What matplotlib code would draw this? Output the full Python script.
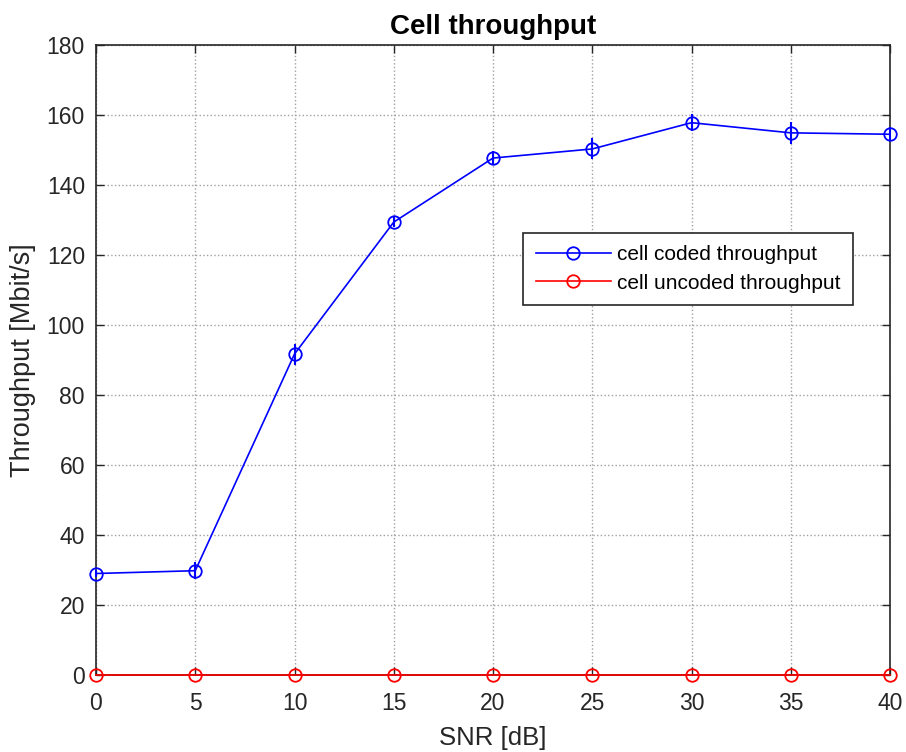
import numpy as np
import matplotlib
matplotlib.use("Agg")
import matplotlib.pyplot as plt
from matplotlib.lines import Line2D

plt.rcParams['font.family'] = ['Liberation Sans', 'DejaVu Sans']

# data
snr = [0, 5, 10, 15, 20, 25, 30, 35, 40]
coded = [29.0, 29.8, 91.7, 129.4, 147.7, 150.3, 157.8, 154.9, 154.5]
coded_err = [1.0, 2.5, 3.0, 1.5, 2.0, 3.0, 2.4, 3.1, 2.0]
uncoded = [0, 0, 0, 0, 0, 0, 0, 0, 0]
uncoded_err = [0, 0, 0, 0, 0, 0, 0, 0, 0]

fig = plt.figure(figsize=(9.06, 7.52), dpi=100)
ax = fig.add_axes([96 / 906, 1 - 675 / 752, 794 / 906, 630 / 752])

style = dict(marker='o', mfc='none', ms=9, mew=1.3, lw=1.2,
             elinewidth=1.5, capsize=0, zorder=3, clip_on=False)
eb1 = ax.errorbar(snr, coded, yerr=coded_err, color='#0000ff', **style)
eb2 = ax.errorbar(snr, uncoded, yerr=uncoded_err, color='#ff0000', **style)
for eb in (eb1, eb2):
    for part in eb.lines[2]:
        part.set_clip_on(False)

ax.set_xlim(0, 40)
ax.set_ylim(0, 180)
ax.set_xticks(range(0, 41, 5))
ax.set_yticks(range(0, 181, 20))
ax.grid(True, linestyle=':', color='#a0a0a0', linewidth=1.0)
ax.tick_params(direction='in', top=True, right=True, labelsize=16.5,
               length=6, width=1, colors='#262626')
ax.tick_params(axis='x', pad=12)
ax.tick_params(axis='y', pad=8)
for s in ax.spines.values():
    s.set_color('#262626')
    s.set_linewidth(1.2)

ax.set_title('Cell throughput', fontsize=20, fontweight='bold', pad=8)
ax.set_xlabel('SNR [dB]', fontsize=18.5, color='#262626', labelpad=8)
ax.set_ylabel('Throughput [Mbit/s]', fontsize=19.5, color='#262626', labelpad=8)

handles = [Line2D([], [], color='#0000ff', marker='o', mfc='none', ms=9, mew=1.3, lw=1.2),
           Line2D([], [], color='#ff0000', marker='o', mfc='none', ms=9, mew=1.3, lw=1.2)]
leg = ax.legend(handles, ['cell coded throughput', 'cell uncoded throughput'],
                loc='lower left', bbox_to_anchor=(0.538, 0.587), fontsize=15,
                fancybox=False, framealpha=1, edgecolor='#262626',
                handlelength=3.6, handletextpad=0.3, borderpad=0.6,
                labelspacing=0.45, borderaxespad=0)
leg.get_frame().set_linewidth(1.2)

fig.savefig('out.png', dpi=100)
